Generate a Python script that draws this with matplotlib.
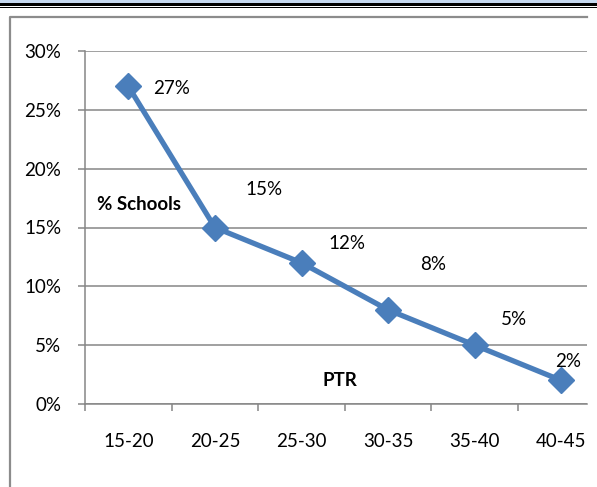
import numpy as np
import matplotlib.pyplot as plt
from matplotlib.lines import Line2D
from matplotlib.patches import Rectangle

# === Data ===
categories = ['15-20', '20-25', '25-30', '30-35', '35-40', '40-45']
schools_pct = [27, 15, 12, 8, 5, 2]
point_labels = ['27%', '15%', '12%', '8%', '5%', '2%']

# label offsets from each point, in pixels (dx, dy up)
label_offsets = [(25, -2), (31, 38), (27, 19), (32, 45), (26, 26), (-6, 19)]

W, H = 597, 487
plt.rcParams['font.family'] = ['Lato', 'DejaVu Sans']
fs = 13.5

fig = plt.figure(figsize=(W / 100, H / 100), dpi=100)
ax = fig.add_axes([85 / W, (H - 404) / H, (587 - 85) / W, (404 - 51) / H])

blue = '#4a7ebb'
grey = '#868686'
x = np.arange(len(categories))
ax.plot(x, schools_pct, color=blue, lw=3.8, marker='D', markersize=13,
        markerfacecolor=blue, markeredgecolor=blue, zorder=3, clip_on=False)

px = 0.72  # pixels -> points at dpi 100
for xi, yi, lab, (dx, dy) in zip(x, schools_pct, point_labels, label_offsets):
    ax.annotate(lab, (xi, yi), xytext=(dx * px, dy * px), textcoords='offset points',
                ha='left', va='center', fontsize=fs, color='black')

# === Axes ===
ax.set_yticks(np.arange(0, 31, 5))
ax.set_yticklabels([f'{v}%' for v in range(0, 31, 5)])
ax.set_xticks(x)
ax.set_xticklabels(categories)
ax.set_xticks(np.arange(-0.5, 5.6, 1), minor=True)
ax.set_xlim(-0.5, -0.5 + (587 - 85) / 86.6)
ax.set_ylim(0, 30)
ax.tick_params(axis='x', which='major', length=0, pad=21, labelsize=fs)
ax.tick_params(axis='x', which='minor', length=5, width=1.1, color=grey, direction='out')
ax.tick_params(axis='y', length=5, width=1.1, color=grey, pad=12, labelsize=fs)
ax.yaxis.grid(True, color=grey, lw=1.1)
ax.set_axisbelow(True)
for s in ['top', 'right']:
    ax.spines[s].set_visible(False)
for s in ['left', 'bottom']:
    ax.spines[s].set_color(grey)
    ax.spines[s].set_linewidth(1.1)

fig.text(97 / W, 1 - 204 / H, '% Schools', fontsize=13.5, fontweight='bold', va='center', ha='left')
fig.text(323 / W, 1 - 380 / H, 'PTR', fontsize=13.5, fontweight='bold', va='center', ha='left')

# === Frame and page border ===
fig.add_artist(Line2D([10 / W, 10 / W, 587 / W], [0, 1 - 17 / H, 1 - 17 / H],
                      transform=fig.transFigure, color='#8c8c8c', lw=1.6))
fig.add_artist(Rectangle((0, 1 - 3 / H), 1, 3 / H, transform=fig.transFigure,
                         color='#c6d9f0', lw=0))
fig.add_artist(Rectangle((0, 1 - 6 / H), 1, 2.5 / H, transform=fig.transFigure,
                         color='black', lw=0))
fig.add_artist(Rectangle((0, 1 - 8 / H), 1, 1.2 / H, transform=fig.transFigure,
                         color='black', lw=0))

fig.savefig('out.png', dpi=100)
